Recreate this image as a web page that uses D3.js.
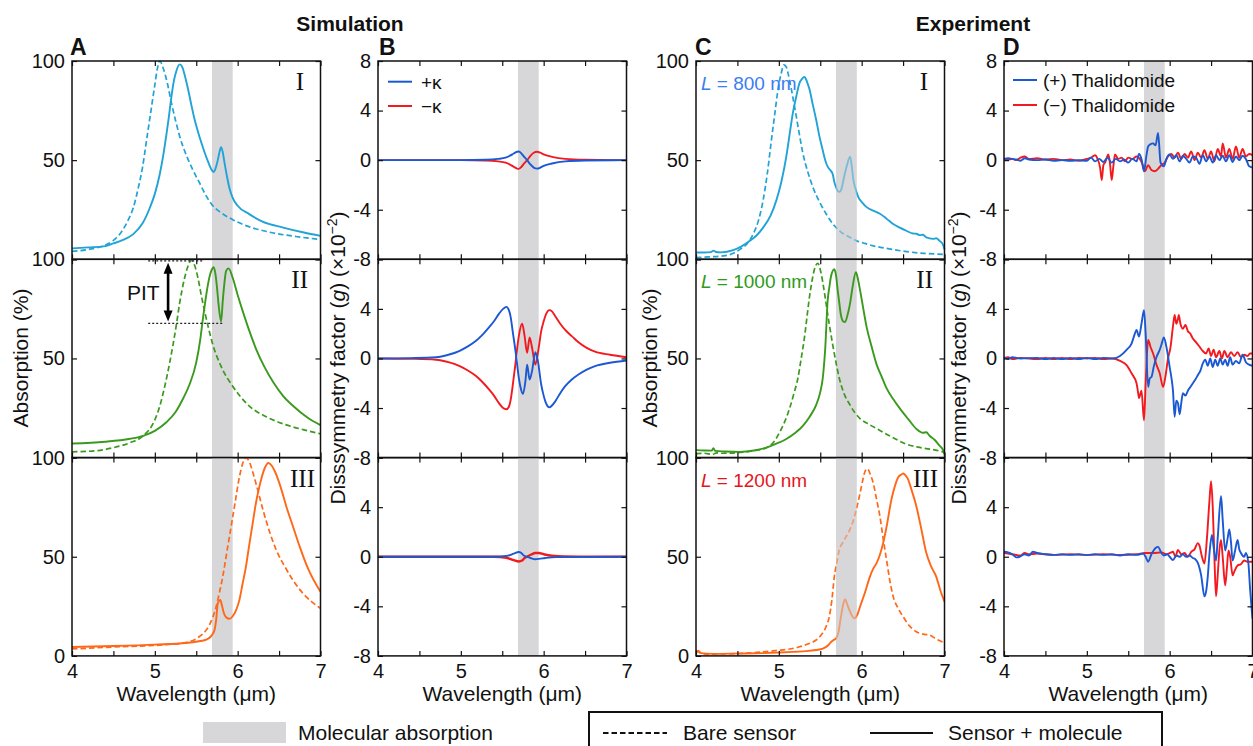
<!DOCTYPE html>
<html>
<head>
<meta charset="utf-8">
<script src="https://cdnjs.cloudflare.com/ajax/libs/d3/7.8.5/d3.min.js"></script>
<style>
  body { margin: 0; background: #fff; }
  svg { display: block; font-family: "Liberation Sans", Arial, sans-serif; }
</style>
</head>
<body>
<div id="chart"></div>
<script>
// ---- data: [wavelength (um), value] ----
// A: simulated absorption (%)
const simBare1 = [[4.0,4],[4.2,5],[4.38,6.8],[4.5,9.5],[4.6,14],[4.68,20],[4.74,26],[4.8,36],[4.85,46],[4.9,60],[4.95,74],[5.0,88],[5.03,96],[5.06,100],[5.1,96.5],[5.15,89],[5.2,79],[5.25,70],[5.3,62],[5.38,52.5],[5.46,45],[5.54,38.5],[5.62,32],[5.69,27.5],[5.8,23.5],[5.94,20],[6.1,17],[6.35,14],[6.7,11.5],[7.0,10]];
const simMol1 = [[4.0,5.5],[4.2,6],[4.38,6.5],[4.5,8],[4.6,9.5],[4.74,12.7],[4.85,18],[4.94,26],[5.0,33],[5.06,43],[5.1,52],[5.14,63],[5.17,72],[5.2,82],[5.23,90],[5.26,95],[5.3,98.3],[5.33,97],[5.36,93],[5.4,86],[5.44,78],[5.48,70.5],[5.52,64.5],[5.56,59],[5.6,54],[5.64,49.5],[5.68,45.5],[5.71,44],[5.73,45.5],[5.76,50],[5.78,54],[5.8,56.5],[5.82,54],[5.84,49],[5.87,42],[5.9,36],[5.94,31],[6.0,27],[6.14,22.8],[6.3,19],[6.55,16],[6.8,13.5],[7.0,11.8]];
const simBare2 = [[4.0,2.9],[4.3,3.5],[4.5,5],[4.7,7.5],[4.86,11],[5.0,19],[5.06,26],[5.12,36],[5.18,48],[5.22,57],[5.26,67],[5.3,78],[5.36,90.7],[5.4,96.5],[5.44,99.5],[5.48,97],[5.52,90.7],[5.56,82],[5.6,74],[5.65,65],[5.7,57],[5.8,46],[5.94,36],[6.14,26],[6.35,20.5],[6.55,17],[6.8,14],[7.0,12]];
const simMol2 = [[4.0,7.1],[4.4,8],[4.7,9.5],[4.86,11],[5.0,13.5],[5.14,17.8],[5.25,23],[5.34,29.7],[5.42,37],[5.5,48],[5.55,60],[5.58,70],[5.61,79],[5.64,87],[5.68,94],[5.71,96],[5.73,93],[5.75,86],[5.77,77],[5.8,68.6],[5.82,79],[5.84,88],[5.86,94],[5.89,95.4],[5.94,90.7],[6.0,82],[6.06,74],[6.14,64],[6.22,55],[6.32,46],[6.43,38],[6.55,31],[6.67,26],[6.85,20],[7.0,16.4]];
const simBare3 = [[4.0,3.5],[4.5,4.5],[5.14,5.7],[5.38,6.8],[5.54,9.8],[5.62,13],[5.66,15.7],[5.7,19.5],[5.74,24.8],[5.78,32],[5.82,40],[5.86,50],[5.9,60],[5.96,75],[6.02,90],[6.06,97],[6.1,99.8],[6.14,98],[6.18,93],[6.24,84],[6.31,73],[6.39,62],[6.47,53],[6.57,45],[6.67,38],[6.8,31],[7.0,24]];
const simMol3 = [[4.0,4.5],[4.5,5],[5.0,5.7],[5.38,6.5],[5.55,7.5],[5.62,8.2],[5.68,10],[5.72,13],[5.74,18],[5.76,26.5],[5.79,28.2],[5.81,25.5],[5.83,22],[5.86,19.5],[5.9,18.7],[5.94,20],[5.98,23],[6.02,28],[6.06,36.5],[6.1,45],[6.14,56],[6.18,66.5],[6.22,77],[6.26,85],[6.29,90],[6.33,95],[6.37,97.3],[6.41,96],[6.45,93],[6.52,85],[6.59,75],[6.67,65],[6.75,55],[6.85,44],[7.0,32.3]];

// B: simulated dissymmetry factor (x1e-2)
const simPlus1 = [[4.0,0],[5.0,0],[5.3,0.03],[5.45,0.1],[5.54,0.2],[5.6,0.38],[5.64,0.54],[5.68,0.68],[5.7,0.7],[5.73,0.55],[5.76,0.3],[5.8,0],[5.84,-0.35],[5.88,-0.6],[5.92,-0.68],[5.96,-0.6],[6.0,-0.46],[6.1,-0.27],[6.26,-0.1],[6.5,-0.03],[7.0,0]];
const simMinus1 = [[4.0,0],[5.0,0],[5.3,-0.03],[5.45,-0.1],[5.54,-0.2],[5.6,-0.38],[5.64,-0.54],[5.68,-0.68],[5.7,-0.7],[5.73,-0.55],[5.76,-0.3],[5.8,0],[5.84,0.35],[5.88,0.6],[5.92,0.68],[5.96,0.6],[6.0,0.46],[6.1,0.27],[6.26,0.1],[6.5,0.03],[7.0,0]];
const simPlus2 = [[4.0,0],[4.4,0.03],[4.7,0.1],[4.85,0.3],[4.98,0.6],[5.08,0.95],[5.18,1.4],[5.26,1.9],[5.34,2.5],[5.4,3.0],[5.46,3.6],[5.51,4.0],[5.55,4.16],[5.58,3.9],[5.6,3.4],[5.63,2.0],[5.66,0.6],[5.68,-0.5],[5.7,-1.57],[5.72,-2.3],[5.75,-2.86],[5.78,-1.8],[5.8,-0.5],[5.83,-1.7],[5.86,-1.0],[5.9,0.5],[5.93,-0.2],[5.97,-2.1],[6.0,-3.0],[6.02,-3.46],[6.07,-3.95],[6.1,-3.8],[6.14,-3.46],[6.2,-2.8],[6.26,-2.24],[6.34,-1.7],[6.42,-1.3],[6.52,-0.9],[6.62,-0.62],[6.8,-0.35],[7.0,-0.16]];
const simMinus2 = [[4.0,0],[4.4,-0.03],[4.7,-0.1],[4.85,-0.3],[4.98,-0.6],[5.08,-0.95],[5.18,-1.4],[5.26,-1.9],[5.34,-2.5],[5.4,-3.0],[5.46,-3.6],[5.51,-4.0],[5.55,-4.1],[5.58,-3.9],[5.6,-3.4],[5.63,-2.0],[5.66,-0.4],[5.68,0.8],[5.7,1.8],[5.74,2.8],[5.77,1.8],[5.8,0.46],[5.83,1.7],[5.86,0.86],[5.9,-0.5],[5.94,0.86],[5.97,2.2],[6.0,3.0],[6.03,3.6],[6.07,3.9],[6.1,3.8],[6.14,3.4],[6.2,2.8],[6.26,2.3],[6.34,1.8],[6.42,1.3],[6.52,0.85],[6.62,0.55],[6.8,0.3],[7.0,0.1]];
const simPlus3 = [[4.0,0],[5.4,0],[5.55,0.06],[5.64,0.25],[5.7,0.38],[5.73,0.3],[5.76,0.1],[5.8,0],[5.85,-0.12],[5.9,-0.2],[5.96,-0.15],[6.02,-0.1],[6.15,-0.03],[7.0,0]];
const simMinus3 = [[4.0,0],[5.4,0],[5.55,-0.08],[5.64,-0.28],[5.7,-0.38],[5.74,-0.3],[5.77,-0.1],[5.8,0],[5.85,0.18],[5.9,0.3],[5.94,0.3],[6.0,0.2],[6.1,0.08],[6.25,0.02],[7.0,0]];

// C: measured absorption (%)
const expBare1 = [[4.0,0.8],[4.15,1.2],[4.33,1.7],[4.45,3],[4.53,5],[4.62,8],[4.69,12.7],[4.75,19],[4.81,29.7],[4.86,43],[4.91,60],[4.95,73],[4.99,85.7],[5.03,94],[5.06,98],[5.09,97],[5.11,94],[5.15,86],[5.19,77],[5.24,65],[5.29,53.5],[5.35,44],[5.41,36.5],[5.49,29],[5.57,23],[5.65,18],[5.73,14.4],[5.84,11.5],[5.94,9.3],[6.04,8],[6.14,6.8],[6.3,5.5],[6.54,3.9],[6.75,3],[7.0,2.5]];
const expMol1 = [[4.0,3.4],[4.1,3.4],[4.18,3.6],[4.21,4.4],[4.24,3.7],[4.3,3.5],[4.45,4.6],[4.55,6.5],[4.65,9.3],[4.73,12],[4.81,16],[4.9,22],[4.97,29.7],[5.03,39],[5.09,51.8],[5.13,63],[5.17,74],[5.21,82],[5.25,89],[5.28,91],[5.31,92],[5.34,89.5],[5.37,85.7],[5.41,78],[5.45,70.5],[5.49,62],[5.53,55],[5.56,50],[5.59,46.7],[5.62,45],[5.65,43],[5.67,39],[5.69,36.5],[5.71,34.5],[5.73,34],[5.76,36],[5.78,40],[5.82,47],[5.86,51.8],[5.88,47],[5.9,40],[5.93,35],[5.96,31.4],[6.01,28.5],[6.06,26.3],[6.14,24.5],[6.22,23],[6.3,20.5],[6.38,17.8],[6.46,16],[6.54,14.4],[6.62,13],[6.66,12.9],[6.7,12.2],[6.74,12.4],[6.78,11],[6.86,10.3],[6.9,10.6],[6.94,9.3],[6.98,7.5],[7.0,5]];
const expBare2 = [[4.0,2],[4.1,2.2],[4.2,1.6],[4.25,2.4],[4.3,2.2],[4.53,2.6],[4.7,3.5],[4.85,5],[4.95,8.5],[5.01,12.8],[5.07,18],[5.13,24.8],[5.18,32],[5.23,40],[5.27,50],[5.31,60.7],[5.34,71],[5.37,81],[5.4,89],[5.43,95],[5.47,98],[5.51,93],[5.54,86],[5.57,77.8],[5.61,67],[5.65,57],[5.69,48],[5.73,40],[5.79,32],[5.86,26.5],[5.92,22.5],[5.98,19.7],[6.1,16.5],[6.22,13.7],[6.38,10],[6.54,6.8],[6.68,5.3],[6.82,4.3],[6.92,3.5],[7.0,2.6]];
const expMol2 = [[4.0,3.8],[4.1,3.6],[4.19,3.5],[4.21,4.8],[4.23,3.4],[4.35,3.1],[4.53,2.9],[4.7,3.6],[4.85,5],[4.97,7],[5.09,9.4],[5.2,12.5],[5.29,16],[5.37,20.5],[5.45,26.5],[5.5,33],[5.53,40],[5.56,55],[5.59,79.5],[5.61,86],[5.63,91.5],[5.67,95],[5.69,92],[5.71,84.6],[5.73,78],[5.75,71.8],[5.78,68.6],[5.8,68.4],[5.83,72],[5.86,77.8],[5.89,86],[5.93,93.5],[5.95,91],[5.98,84.6],[6.02,75],[6.06,65.8],[6.12,56],[6.18,47],[6.24,41],[6.3,35],[6.38,29.5],[6.46,24.8],[6.56,19.5],[6.66,14.5],[6.74,12.5],[6.78,12.8],[6.82,11],[6.88,9],[6.94,6],[6.98,4],[7.0,1.7]];
const expBare3 = [[4.0,2.9],[4.05,1.5],[4.13,0.8],[4.3,1],[4.53,1.2],[4.8,2],[5.01,2.9],[5.15,3.6],[5.25,4.6],[5.35,6],[5.45,8],[5.52,11],[5.57,14.7],[5.61,20],[5.64,28],[5.67,40],[5.7,47],[5.73,53.5],[5.77,57],[5.81,60],[5.85,63],[5.89,67],[5.93,73],[5.98,82],[6.01,88],[6.04,93],[6.07,94.4],[6.1,92],[6.14,87],[6.18,79],[6.22,70.4],[6.26,59],[6.3,48.5],[6.34,38],[6.38,30],[6.44,24],[6.5,19.8],[6.58,15],[6.66,12.2],[6.74,11],[6.82,10.5],[6.9,8.5],[7.0,6.6]];
const expMol3 = [[4.0,1.5],[4.03,2.6],[4.06,1.4],[4.2,1],[4.53,1.2],[4.8,1.4],[5.01,1.7],[5.2,2.1],[5.33,2.4],[5.45,3],[5.53,3.7],[5.6,5.5],[5.63,7],[5.66,8],[5.69,8.8],[5.72,12],[5.75,19.8],[5.78,26.5],[5.8,28.5],[5.83,25.5],[5.86,22.3],[5.91,19],[5.95,21],[5.98,24.8],[6.04,32],[6.1,40],[6.14,44],[6.18,46.8],[6.22,51],[6.26,57],[6.3,65],[6.36,79],[6.4,85.5],[6.44,90],[6.48,91.5],[6.5,92],[6.53,91],[6.56,89],[6.6,84],[6.66,75.5],[6.72,64],[6.78,52],[6.84,45],[6.9,40],[6.95,33],[7.0,27.4]];

// D: measured dissymmetry factor (x1e-2)
const expPlus1 = [[4.0,0.1],[4.05,0.15],[4.1,0.1],[4.15,0.05],[4.2,-0.05],[4.25,0.15],[4.3,0.05],[4.4,0.0],[4.5,0.05],[4.6,-0.05],[4.7,0.0],[4.8,-0.05],[4.9,0.0],[5.0,-0.05],[5.05,0.2],[5.1,-0.1],[5.15,0.1],[5.2,-0.15],[5.25,0.2],[5.3,-0.2],[5.35,0.1],[5.4,-0.1],[5.45,0.05],[5.5,-0.2],[5.55,0.1],[5.6,-0.1],[5.63,0.5],[5.66,0.1],[5.69,-0.9],[5.72,0.4],[5.74,1.1],[5.77,1.3],[5.8,1.35],[5.83,1.2],[5.86,2.2],[5.89,-0.2],[5.93,-0.5],[5.96,0.1],[6.0,0.45],[6.04,0.1],[6.08,0.4],[6.12,-0.1],[6.16,0.35],[6.2,0.1],[6.24,-0.2],[6.28,0.3],[6.32,0.2],[6.36,-0.3],[6.4,0.4],[6.44,-0.1],[6.48,0.3],[6.52,-0.2],[6.56,0.4],[6.6,0.0],[6.64,0.35],[6.68,-0.1],[6.72,0.4],[6.76,-0.15],[6.8,0.3],[6.84,0.0],[6.88,0.35],[6.92,0.1],[6.96,-0.5],[7.0,-0.6]];
const expMinus1 = [[4.0,0.1],[4.05,0.05],[4.1,0.1],[4.15,0.0],[4.2,0.2],[4.25,0.3],[4.3,0.1],[4.4,0.15],[4.5,0.05],[4.6,0.1],[4.7,0.0],[4.8,0.05],[4.9,-0.05],[5.0,0.1],[5.05,0.2],[5.1,0.4],[5.13,0.1],[5.16,-0.6],[5.18,-1.6],[5.2,-0.4],[5.22,-0.2],[5.26,0.45],[5.28,-0.3],[5.3,-1.6],[5.32,-0.5],[5.34,0.45],[5.38,0.1],[5.42,0.2],[5.46,-0.1],[5.5,0.2],[5.55,0.1],[5.6,0.3],[5.64,0.1],[5.67,-0.3],[5.7,-0.9],[5.74,-0.4],[5.78,-0.8],[5.82,-0.9],[5.86,-0.7],[5.9,-0.4],[5.94,-0.2],[5.98,0.3],[6.02,0.5],[6.06,0.2],[6.1,0.6],[6.14,0.1],[6.18,0.5],[6.22,0.2],[6.26,0.7],[6.3,0.0],[6.34,0.6],[6.38,0.2],[6.42,0.8],[6.46,0.1],[6.5,0.7],[6.54,-0.1],[6.58,0.9],[6.62,0.3],[6.64,1.35],[6.68,0.2],[6.72,0.9],[6.76,0.1],[6.8,1.1],[6.84,0.2],[6.88,0.9],[6.92,0.3],[6.96,0.5],[7.0,0.4]];
const expPlus2 = [[4.0,0.1],[4.05,-0.05],[4.1,0.1],[4.2,0.0],[4.4,0.05],[4.5,-0.05],[4.6,0.05],[4.7,-0.05],[4.8,0.05],[4.9,-0.05],[5.0,0.05],[5.1,-0.05],[5.2,0.05],[5.32,0.0],[5.4,0.2],[5.48,0.7],[5.54,1.2],[5.58,2.0],[5.6,2.3],[5.63,1.76],[5.66,2.8],[5.69,3.9],[5.71,2.0],[5.74,-2.3],[5.76,-1.6],[5.78,-1.5],[5.81,-0.6],[5.84,0.1],[5.88,0.7],[5.9,1.1],[5.93,1.7],[5.96,0.95],[5.98,0.2],[6.0,-0.7],[6.02,-1.5],[6.04,-2.6],[6.06,-4.7],[6.08,-3.4],[6.1,-3.6],[6.12,-4.5],[6.14,-3.6],[6.16,-2.8],[6.19,-3.0],[6.22,-2.6],[6.25,-2.3],[6.28,-2.0],[6.31,-1.7],[6.34,-1.35],[6.37,-1.0],[6.4,-0.4],[6.43,-0.1],[6.46,-0.6],[6.49,0.0],[6.52,-0.7],[6.55,-0.1],[6.58,-0.6],[6.61,0.0],[6.64,-0.5],[6.67,-0.1],[6.7,-0.6],[6.73,0.1],[6.76,-0.5],[6.8,-0.2],[6.84,-0.4],[6.88,0.3],[6.92,-0.3],[6.96,-0.5],[7.0,-0.6]];
const expMinus2 = [[4.0,0.0],[4.05,0.1],[4.1,-0.05],[4.2,0.05],[4.4,-0.05],[4.5,0.05],[4.6,-0.05],[4.7,0.05],[4.8,-0.05],[4.9,0.05],[5.0,0.0],[5.1,0.05],[5.2,-0.05],[5.32,0.0],[5.4,-0.2],[5.48,-0.54],[5.54,-1.2],[5.6,-2.0],[5.62,-2.8],[5.63,-3.2],[5.66,-2.6],[5.69,-5.0],[5.71,-2.0],[5.73,0.8],[5.74,1.5],[5.77,0.9],[5.8,0.4],[5.84,-0.5],[5.88,-1.2],[5.92,-2.3],[5.95,-1.4],[5.98,0.0],[6.01,0.9],[6.04,2.6],[6.06,3.5],[6.08,2.8],[6.1,3.2],[6.11,3.5],[6.13,2.8],[6.16,2.4],[6.19,2.7],[6.22,2.2],[6.25,2.0],[6.28,1.6],[6.32,1.3],[6.36,0.95],[6.4,0.6],[6.44,0.4],[6.47,0.8],[6.5,0.2],[6.53,0.7],[6.56,0.1],[6.6,0.6],[6.63,0.0],[6.66,0.6],[6.7,0.1],[6.74,0.5],[6.78,0.2],[6.82,0.5],[6.86,0.1],[6.9,0.3],[6.94,0.2],[6.97,0.4],[7.0,0.4]];
const expPlus3 = [[4.0,0.4],[4.05,0.35],[4.1,0.2],[4.15,-0.05],[4.19,0.0],[4.25,0.2],[4.3,0.1],[4.35,0.4],[4.4,0.3],[4.5,0.2],[4.6,0.15],[4.7,0.2],[4.8,0.15],[4.9,0.2],[5.0,0.15],[5.1,0.2],[5.2,0.15],[5.3,0.2],[5.4,0.1],[5.5,0.2],[5.6,0.15],[5.68,0.25],[5.71,0.0],[5.74,-0.4],[5.78,0.2],[5.83,0.7],[5.86,0.8],[5.9,0.3],[5.93,0.1],[5.97,0.2],[6.0,0.0],[6.04,-0.27],[6.08,0.1],[6.12,0.0],[6.16,0.2],[6.2,0.0],[6.24,0.1],[6.28,-0.1],[6.31,-0.2],[6.34,-0.5],[6.38,-1.5],[6.42,-3.2],[6.44,-2.8],[6.46,-1.6],[6.48,0.2],[6.51,1.75],[6.53,0.8],[6.56,-0.3],[6.58,1.5],[6.62,4.9],[6.64,3.0],[6.67,0.5],[6.7,1.5],[6.72,2.2],[6.74,1.2],[6.76,-0.3],[6.79,0.5],[6.82,1.35],[6.84,0.6],[6.86,0.3],[6.9,0.0],[6.92,0.3],[6.95,-0.5],[6.97,-2.5],[7.0,-5.0]];
const expMinus3 = [[4.0,0.3],[4.05,0.25],[4.1,0.2],[4.2,0.1],[4.25,0.3],[4.3,0.2],[4.4,0.25],[4.5,0.2],[4.6,0.15],[4.8,0.2],[5.0,0.15],[5.2,0.2],[5.4,0.15],[5.6,0.2],[5.7,0.3],[5.8,0.3],[5.9,0.35],[5.96,0.2],[6.0,0.3],[6.04,0.4],[6.07,0.0],[6.1,0.55],[6.14,0.2],[6.18,0.3],[6.22,0.0],[6.26,0.4],[6.3,0.6],[6.34,1.1],[6.36,0.9],[6.39,0.0],[6.42,-0.54],[6.45,1.5],[6.48,4.5],[6.5,6.1],[6.52,4.0],[6.54,0.0],[6.56,-3.2],[6.58,-1.5],[6.6,0.5],[6.62,1.35],[6.64,0.0],[6.67,-2.3],[6.69,-1.0],[6.71,0.5],[6.73,0.0],[6.76,-1.5],[6.78,-1.2],[6.82,-0.7],[6.86,-0.6],[6.9,-0.3],[6.94,-0.4],[7.0,-0.4]];

// band of molecular absorption, ticks, labels
const molBand = [5.69, 5.94];
const xTicks = [4, 4.5, 5, 5.5, 6, 6.5, 7];
const absTicks = [0, 50, 100];
const gTicks = [-8, -4, 0, 4, 8];
const rowNames = ["I", "II", "III"];
const lengthLabels = ["800 nm", "1000 nm", "1200 nm"];

const rowColors = ["#21a3d6", "#3a9a1d", "#ff6818"];
const lengthColors = ["#3b7df2", "#2f9a20", "#e5151c"];
const plusColor = "#1b58d4", minusColor = "#f31a1f", bandColor = "#d7d6d8";

const width = 1253, height = 746;
const svg = d3.select("#chart").append("svg")
  .attr("width", width)
  .attr("height", height);

const panelLeft = [72, 378, 696, 1004];
const panelW = 248.5;
const rowTop = [61, 259.3, 457.6];
const rowH = 198.3;

function fmtTick(d) {
  return d < 0 ? "-" + Math.abs(d) : String(d);
}

function drawPanel(col, row, cfg) {
  const x0 = panelLeft[col], y0 = rowTop[row];
  const x = d3.scaleLinear().domain([4, 7]).range([x0, x0 + panelW]);
  const y = d3.scaleLinear().domain(cfg.yDomain).range([y0 + rowH, y0]);
  const g = svg.append("g");

  g.append("rect")
    .attr("x", x(molBand[0])).attr("y", y0)
    .attr("width", x(molBand[1]) - x(molBand[0])).attr("height", rowH)
    .attr("fill", bandColor);

  const line = d3.line()
    .x(d => x(d[0]))
    .y(d => y(d[1]))
    .curve(d3.curveMonotoneX);

  cfg.series.forEach(s => {
    g.append("path")
      .datum(s.data)
      .attr("d", line)
      .attr("fill", "none")
      .attr("stroke", s.color)
      .attr("stroke-width", s.width || 1.8)
      .attr("stroke-linejoin", "round")
      .attr("stroke-dasharray", s.dash ? "5.5,3" : null);
  });

  // band is laid semi-transparent over the measured lines in rows I and III
  if (cfg.veil) {
    g.append("rect")
      .attr("x", x(molBand[0])).attr("y", y0)
      .attr("width", x(molBand[1]) - x(molBand[0])).attr("height", rowH)
      .attr("fill", bandColor).attr("opacity", 0.5);
  }

  const styleAxis = a => {
    a.select(".domain").remove();
    a.attr("font-size", null).attr("font-family", null);
    a.selectAll("line").attr("stroke", "#111").attr("stroke-width", 1.2);
    a.selectAll("text").attr("fill", "#111").style("font-size", "20px");
  };

  g.append("g")
    .attr("transform", `translate(0,${y0 + rowH})`)
    .call(d3.axisBottom(x).tickValues(xTicks).tickSize(-5).tickPadding(8)
      .tickFormat(d => (row === 2 && Number.isInteger(d)) ? d : ""))
    .call(styleAxis);
  g.append("g")
    .attr("transform", `translate(0,${y0})`)
    .call(d3.axisTop(x).tickValues(xTicks).tickSize(-5).tickFormat(""))
    .call(styleAxis);
  g.append("g")
    .attr("transform", `translate(${x0},0)`)
    .call(d3.axisLeft(y).tickValues(cfg.yTicks).tickSize(-5).tickPadding(7)
      .tickFormat(d => cfg.yLabels.includes(d) ? fmtTick(d) : ""))
    .call(styleAxis);
  g.append("g")
    .attr("transform", `translate(${x0 + panelW},0)`)
    .call(d3.axisRight(y).tickValues(cfg.yTicks).tickSize(-5).tickFormat(""))
    .call(styleAxis);

  g.append("rect")
    .attr("x", x0).attr("y", y0)
    .attr("width", panelW).attr("height", rowH)
    .attr("fill", "none").attr("stroke", "#111").attr("stroke-width", 1.5);

  return { x, y, g };
}

const absLabels = [[50, 100], [50, 100], [0, 50, 100]];
const gLabels = [[-8, -4, 0, 4, 8], [-8, -4, 0, 4], [-8, -4, 0, 4]];

const simAbs = [[simBare1, simMol1], [simBare2, simMol2], [simBare3, simMol3]];
const expAbs = [[expBare1, expMol1], [expBare2, expMol2], [expBare3, expMol3]];
const simG = [[simPlus1, simMinus1], [simPlus2, simMinus2], [simPlus3, simMinus3]];
const expG = [[expPlus1, expMinus1], [expPlus2, expMinus2], [expPlus3, expMinus3]];

for (let r = 0; r < 3; r++) {
  // A
  const pA = drawPanel(0, r, {
    yDomain: [0, 100], yTicks: absTicks, yLabels: absLabels[r],
    series: [
      { data: simAbs[r][0], color: rowColors[r], dash: true, width: 1.7 },
      { data: simAbs[r][1], color: rowColors[r], width: 1.9 }
    ]
  });
  // B
  drawPanel(1, r, {
    yDomain: [-8, 8], yTicks: gTicks, yLabels: gLabels[r],
    series: [
      { data: simG[r][1], color: minusColor, width: r === 2 ? 2.4 : 1.9 },
      { data: simG[r][0], color: plusColor, width: 1.9 }
    ]
  });
  // C
  drawPanel(2, r, {
    yDomain: [0, 100], yTicks: absTicks, yLabels: absLabels[r],
    veil: r !== 1,
    series: [
      { data: expAbs[r][0], color: rowColors[r], dash: true, width: 1.7 },
      { data: expAbs[r][1], color: rowColors[r], width: 1.9 }
    ]
  });
  // D
  drawPanel(3, r, {
    yDomain: [-8, 8], yTicks: gTicks, yLabels: gLabels[r],
    series: [
      { data: expG[r][1], color: minusColor, width: 1.9 },
      { data: expG[r][0], color: plusColor, width: 1.9 }
    ]
  });

  // roman numerals
  [[304, 308, 315][r], [928, 933, 938][r]].forEach(rx => {
    svg.append("text")
      .attr("x", rx)
      .attr("y", rowTop[r] + 29)
      .attr("text-anchor", "end")
      .style("font-family", "'Liberation Serif', 'Times New Roman', serif")
      .style("font-size", "25px")
      .attr("fill", "#111")
      .text(rowNames[r]);
  });

  // L labels in C
  const lt = svg.append("text")
    .attr("x", panelLeft[2] + 5)
    .attr("y", rowTop[r] + 29)
    .attr("fill", lengthColors[r])
    .style("font-size", "19px");
  lt.append("tspan").style("font-style", "italic").text("L");
  lt.append("tspan").text(" = " + lengthLabels[r]);

  // PIT annotation in A row II
  if (r === 1) {
    const { x, y, g } = pA;
    g.append("line").attr("x1", x(4.92)).attr("x2", x(5.58)).attr("y1", y(99.2)).attr("y2", y(99.2))
      .attr("stroke", "#222").attr("stroke-width", 1.4).attr("stroke-dasharray", "2,2");
    g.append("line").attr("x1", x(4.92)).attr("x2", x(5.82)).attr("y1", y(67.7)).attr("y2", y(67.7))
      .attr("stroke", "#222").attr("stroke-width", 1.4).attr("stroke-dasharray", "2,2");
    g.append("line").attr("x1", x(5.16)).attr("x2", x(5.16)).attr("y1", y(94)).attr("y2", y(73))
      .attr("stroke", "#000").attr("stroke-width", 2.6);
    // arrow heads pointing outwards (up at top, down at bottom)
    const head = (tipY, dir) => g.append("path")
      .attr("d", `M${x(5.16)},${tipY} l-4.5,${dir * 11} l9,0 z`)
      .attr("fill", "#000");
    head(y(98.2), 1);
    head(y(68.6), -1);
    g.append("text").attr("x", x(4.86)).attr("y", y(83) + 7)
      .attr("text-anchor", "middle").style("font-size", "21px").attr("fill", "#111").text("PIT");
  }
}

// panel letters & titles
const letters = ["A", "B", "C", "D"];
const letterX = [70, 379, 695, 1003];
letters.forEach((l, i) => {
  svg.append("text").attr("x", letterX[i]).attr("y", 55)
    .style("font-size", "23px").style("font-weight", "bold").attr("fill", "#111").text(l);
});
svg.append("text").attr("x", 350).attr("y", 31).attr("text-anchor", "middle")
  .style("font-size", "21px").style("font-weight", "bold").attr("fill", "#111").text("Simulation");
svg.append("text").attr("x", 973).attr("y", 31).attr("text-anchor", "middle")
  .style("font-size", "21px").style("font-weight", "bold").attr("fill", "#111").text("Experiment");

// axis titles
panelLeft.forEach(px => {
  svg.append("text").attr("x", px + panelW / 2).attr("y", 701).attr("text-anchor", "middle")
    .style("font-size", "21px").attr("fill", "#111").text("Wavelength (μm)");
});
[28, 657].forEach(bx => {
  svg.append("text").attr("transform", `translate(${bx},358) rotate(-90)`)
    .attr("text-anchor", "middle").style("font-size", "21px").attr("fill", "#111")
    .text("Absorption (%)");
});
[345, 966].forEach(bx => {
  const t = svg.append("text").attr("transform", `translate(${bx},358) rotate(-90)`)
    .attr("text-anchor", "middle").style("font-size", "21px").attr("fill", "#111");
  t.append("tspan").text("Disssymmetry factor (");
  t.append("tspan").style("font-style", "italic").text("g");
  t.append("tspan").text(") (×10");
  t.append("tspan").attr("dy", -8).style("font-size", "14px").text("−2");
  t.append("tspan").attr("dy", 8).text(")");
});

// B legend
[["+κ", plusColor, 81.7], ["−κ", minusColor, 106]].forEach(([lab, c, yy]) => {
  svg.append("line").attr("x1", 388).attr("x2", 412).attr("y1", yy).attr("y2", yy)
    .attr("stroke", c).attr("stroke-width", 2);
  svg.append("text").attr("x", 421).attr("y", yy + 7).style("font-size", "19px").attr("fill", "#111").text(lab);
});
// D legend
[["(+) Thalidomide", plusColor, 80], ["(−) Thalidomide", minusColor, 105]].forEach(([lab, c, yy]) => {
  svg.append("line").attr("x1", 1013).attr("x2", 1037).attr("y1", yy).attr("y2", yy)
    .attr("stroke", c).attr("stroke-width", 2);
  svg.append("text").attr("x", 1043).attr("y", yy + 7).style("font-size", "19px").attr("fill", "#111").text(lab);
});

// bottom legends
svg.append("rect").attr("x", 203).attr("y", 722).attr("width", 83).attr("height", 21).attr("fill", bandColor);
svg.append("text").attr("x", 298).attr("y", 740).style("font-size", "21px").attr("fill", "#111").text("Molecular absorption");
svg.append("rect").attr("x", 589).attr("y", 712).attr("width", 573).attr("height", 60)
  .attr("fill", "none").attr("stroke", "#111").attr("stroke-width", 2);
svg.append("line").attr("x1", 603).attr("x2", 667).attr("y1", 733).attr("y2", 733)
  .attr("stroke", "#111").attr("stroke-width", 2).attr("stroke-dasharray", "5.5,3");
svg.append("text").attr("x", 683).attr("y", 740).style("font-size", "21px").attr("fill", "#111").text("Bare sensor");
svg.append("line").attr("x1", 870).attr("x2", 933).attr("y1", 733).attr("y2", 733)
  .attr("stroke", "#111").attr("stroke-width", 2.2);
svg.append("text").attr("x", 948).attr("y", 740).style("font-size", "21px").attr("fill", "#111").text("Sensor + molecule");
</script>
</body>
</html>
